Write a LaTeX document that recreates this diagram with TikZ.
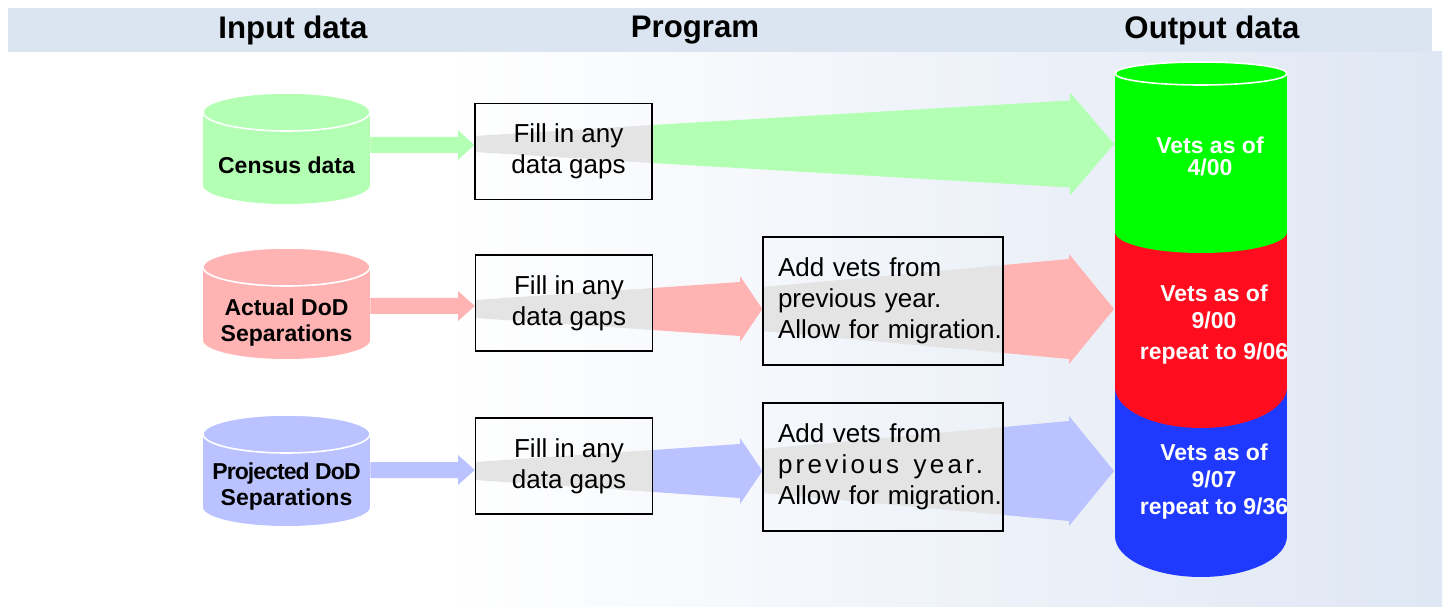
\documentclass[tikz,border=0pt]{standalone}
\usepackage{fontspec}
\setmainfont{Liberation Sans}
\definecolor{bandblue}{HTML}{DBE5F1}
\definecolor{panelblue}{HTML}{DFE7F4}
\definecolor{ingreen}{HTML}{B3FFB3}
\definecolor{inred}{HTML}{FFB3B3}
\definecolor{inblue}{HTML}{BAC3FF}
\definecolor{outgreen}{HTML}{00FF00}
\definecolor{outred}{HTML}{FF0D1F}
\definecolor{outblue}{HTML}{2039FF}
\definecolor{wedgegray}{HTML}{E4E4E4}
\pgfdeclarelayer{back}
\pgfdeclarelayer{flow}
\pgfsetlayers{back,flow,main}
\newcommand{\gaptext}{\hspace*{5pt}Fill in any\\\hspace*{5pt}data gaps}

\begin{document}
\begin{tikzpicture}[x=0.5pt, y=-0.5pt,
  head/.style={font=\bfseries\fontsize{15.6}{18}\selectfont},
  incyl/.style={font=\bfseries\fontsize{11.5}{13}\selectfont, align=center, minimum width=83.5pt, inner sep=0pt},
  outcyl/.style={font=\bfseries\fontsize{11.5}{13.5}\selectfont, align=center, text=white, inner sep=0pt},
  fillbox/.style={draw, line width=0.7pt, minimum width=88.5pt, minimum height=48pt, align=center, font=\fontsize{13}{15.5}\selectfont},
  addbox/.style={draw, line width=0.7pt, text width=105pt, inner xsep=7.5pt, minimum height=64pt, align=left, font=\fontsize{13}{15.5}\selectfont}]
  \useasboundingbox (0,0) rectangle (1447,609);

  \begin{pgfonlayer}{back}
    \fill[white] (0,0) rectangle (1447,609);
    \shade[left color=white, right color=panelblue] (440,52) rectangle (1442,606);
    \fill[bandblue] (8,8) rectangle (1432,52);
  \end{pgfonlayer}

  \node[head] (hin) at (293,30) {Input data};
  \node[head] (hprog) at (695,30) {Program};
  \node[head] (hout) at (1212,30) {Output data};

  % input cylinders
  \foreach \c/\t in {ingreen/112, inred/267, inblue/434} {
    \fill[\c] (203,\t) rectangle (370,\t+73);
    \fill[\c] (286.5,\t+73) ellipse [x radius=41.75pt, y radius=9.5pt];
    \filldraw[fill=\c, draw=white, line width=0.8pt] (286.5,\t) ellipse [x radius=41.75pt, y radius=9.5pt];
  }
  \node[incyl] (census) at (286.5,165) {Census data};
  \node[incyl] (actual) at (286.5,323) {Actual DoD\\Separations};
  \node[incyl] (projected) at (286.5,487) {{\addfontfeature{LetterSpace=-4}Projected DoD}\\Separations};

  % program boxes
  \node[fillbox] (fill1) at (563.5,151.5) {\gaptext};
  \node[fillbox] (fill2) at (564,303) {\gaptext};
  \node[fillbox] (fill3) at (564,466) {\gaptext};
  \node[addbox] (add1) at (883,301) {Add vets from\\previous year.\\\mbox{Allow for migration.}};
  \node[addbox] (add2) at (883,467) {Add vets from\\\mbox{\addfontfeature{LetterSpace=12.5}previous\hspace{3pt} year.}\\\mbox{Allow for migration.}};

  % output cylinder
  \fill[outblue] (1115,380) rectangle (1287,536);
  \fill[outblue] (1201,536) ellipse [x radius=43pt, y radius=20.5pt];
  \fill[outred] (1115,232) rectangle (1287,387);
  \fill[outred] (1201,387) ellipse [x radius=43pt, y radius=20.5pt];
  \fill[outgreen] (1115,73.5) rectangle (1287,232);
  \fill[outgreen] (1201,232) ellipse [x radius=43pt, y radius=10.5pt];
  \filldraw[fill=outgreen, draw=white, line width=0.8pt] (1201,73.5) ellipse [x radius=43pt, y radius=5.75pt];
  \coordinate (outleft) at (1114,300);
  \node[outcyl] (vets1) at (1210,156) {Vets as of\\[-2.5pt]4/00};
  \node[outcyl] (vets2) at (1214,325) {Vets as of\\9/00\\[2pt]repeat to 9/06};
  \node[outcyl] (vets3) at (1214,482) {Vets as of\\9/07\\repeat to 9/36};

  \begin{pgfonlayer}{flow}
    % row 1
    \fill[ingreen] (census.east |- 0,137) -- (458,137) -- (458,130) -- (fill1.west |- 0,145) -- (458,160) -- (458,153) -- (census.east |- 0,153) -- cycle;
    \fill[wedgegray] (fill1.west |- 0,136) -- (fill1.east |- 0,125) -- (fill1.east |- 0,163) -- (fill1.west |- 0,152) -- cycle;
    \fill[ingreen] (fill1.east |- 0,125) -- (1070,100.5) -- (1070,92.5) -- (outleft |- 0,144) -- (1070,195.5) -- (1070,187.5) -- (fill1.east |- 0,163) -- cycle;
    % row 2
    \fill[inred] (actual.east |- 0,298) -- (458,298) -- (458,291) -- (fill2.west |- 0,306) -- (458,321) -- (458,314) -- (actual.east |- 0,314) -- cycle;
    \fill[wedgegray] (fill2.west |- 0,300) -- (fill2.east |- 0,288) -- (fill2.east |- 0,330) -- (fill2.west |- 0,318) -- cycle;
    \fill[inred] (fill2.east |- 0,288) -- (740,282) -- (740,276) -- (add1.west |- 0,309) -- (740,342) -- (740,336) -- (fill2.east |- 0,330) -- cycle;
    \fill[wedgegray] (add1.west |- 0,287) -- (add1.east |- 0,265) -- (add1.east |- 0,353) -- (add1.west |- 0,331) -- cycle;
    \fill[inred] (add1.east |- 0,265) -- (1069,259) -- (1069,254) -- (outleft |- 0,309) -- (1069,364) -- (1069,359) -- (add1.east |- 0,353) -- cycle;
    % row 3
    \fill[inblue] (projected.east |- 0,462) -- (458,462) -- (458,455) -- (fill3.west |- 0,470) -- (458,485) -- (458,478) -- (projected.east |- 0,478) -- cycle;
    \fill[wedgegray] (fill3.west |- 0,462) -- (fill3.east |- 0,450) -- (fill3.east |- 0,492) -- (fill3.west |- 0,480) -- cycle;
    \fill[inblue] (fill3.east |- 0,450) -- (740,444) -- (740,438) -- (add2.west |- 0,471) -- (740,504) -- (740,498) -- (fill3.east |- 0,492) -- cycle;
    \fill[wedgegray] (add2.west |- 0,449) -- (add2.east |- 0,427) -- (add2.east |- 0,515) -- (add2.west |- 0,493) -- cycle;
    \fill[inblue] (add2.east |- 0,427) -- (1069,421) -- (1069,416) -- (outleft |- 0,471) -- (1069,526) -- (1069,521) -- (add2.east |- 0,515) -- cycle;
  \end{pgfonlayer}
\end{tikzpicture}
\end{document}
